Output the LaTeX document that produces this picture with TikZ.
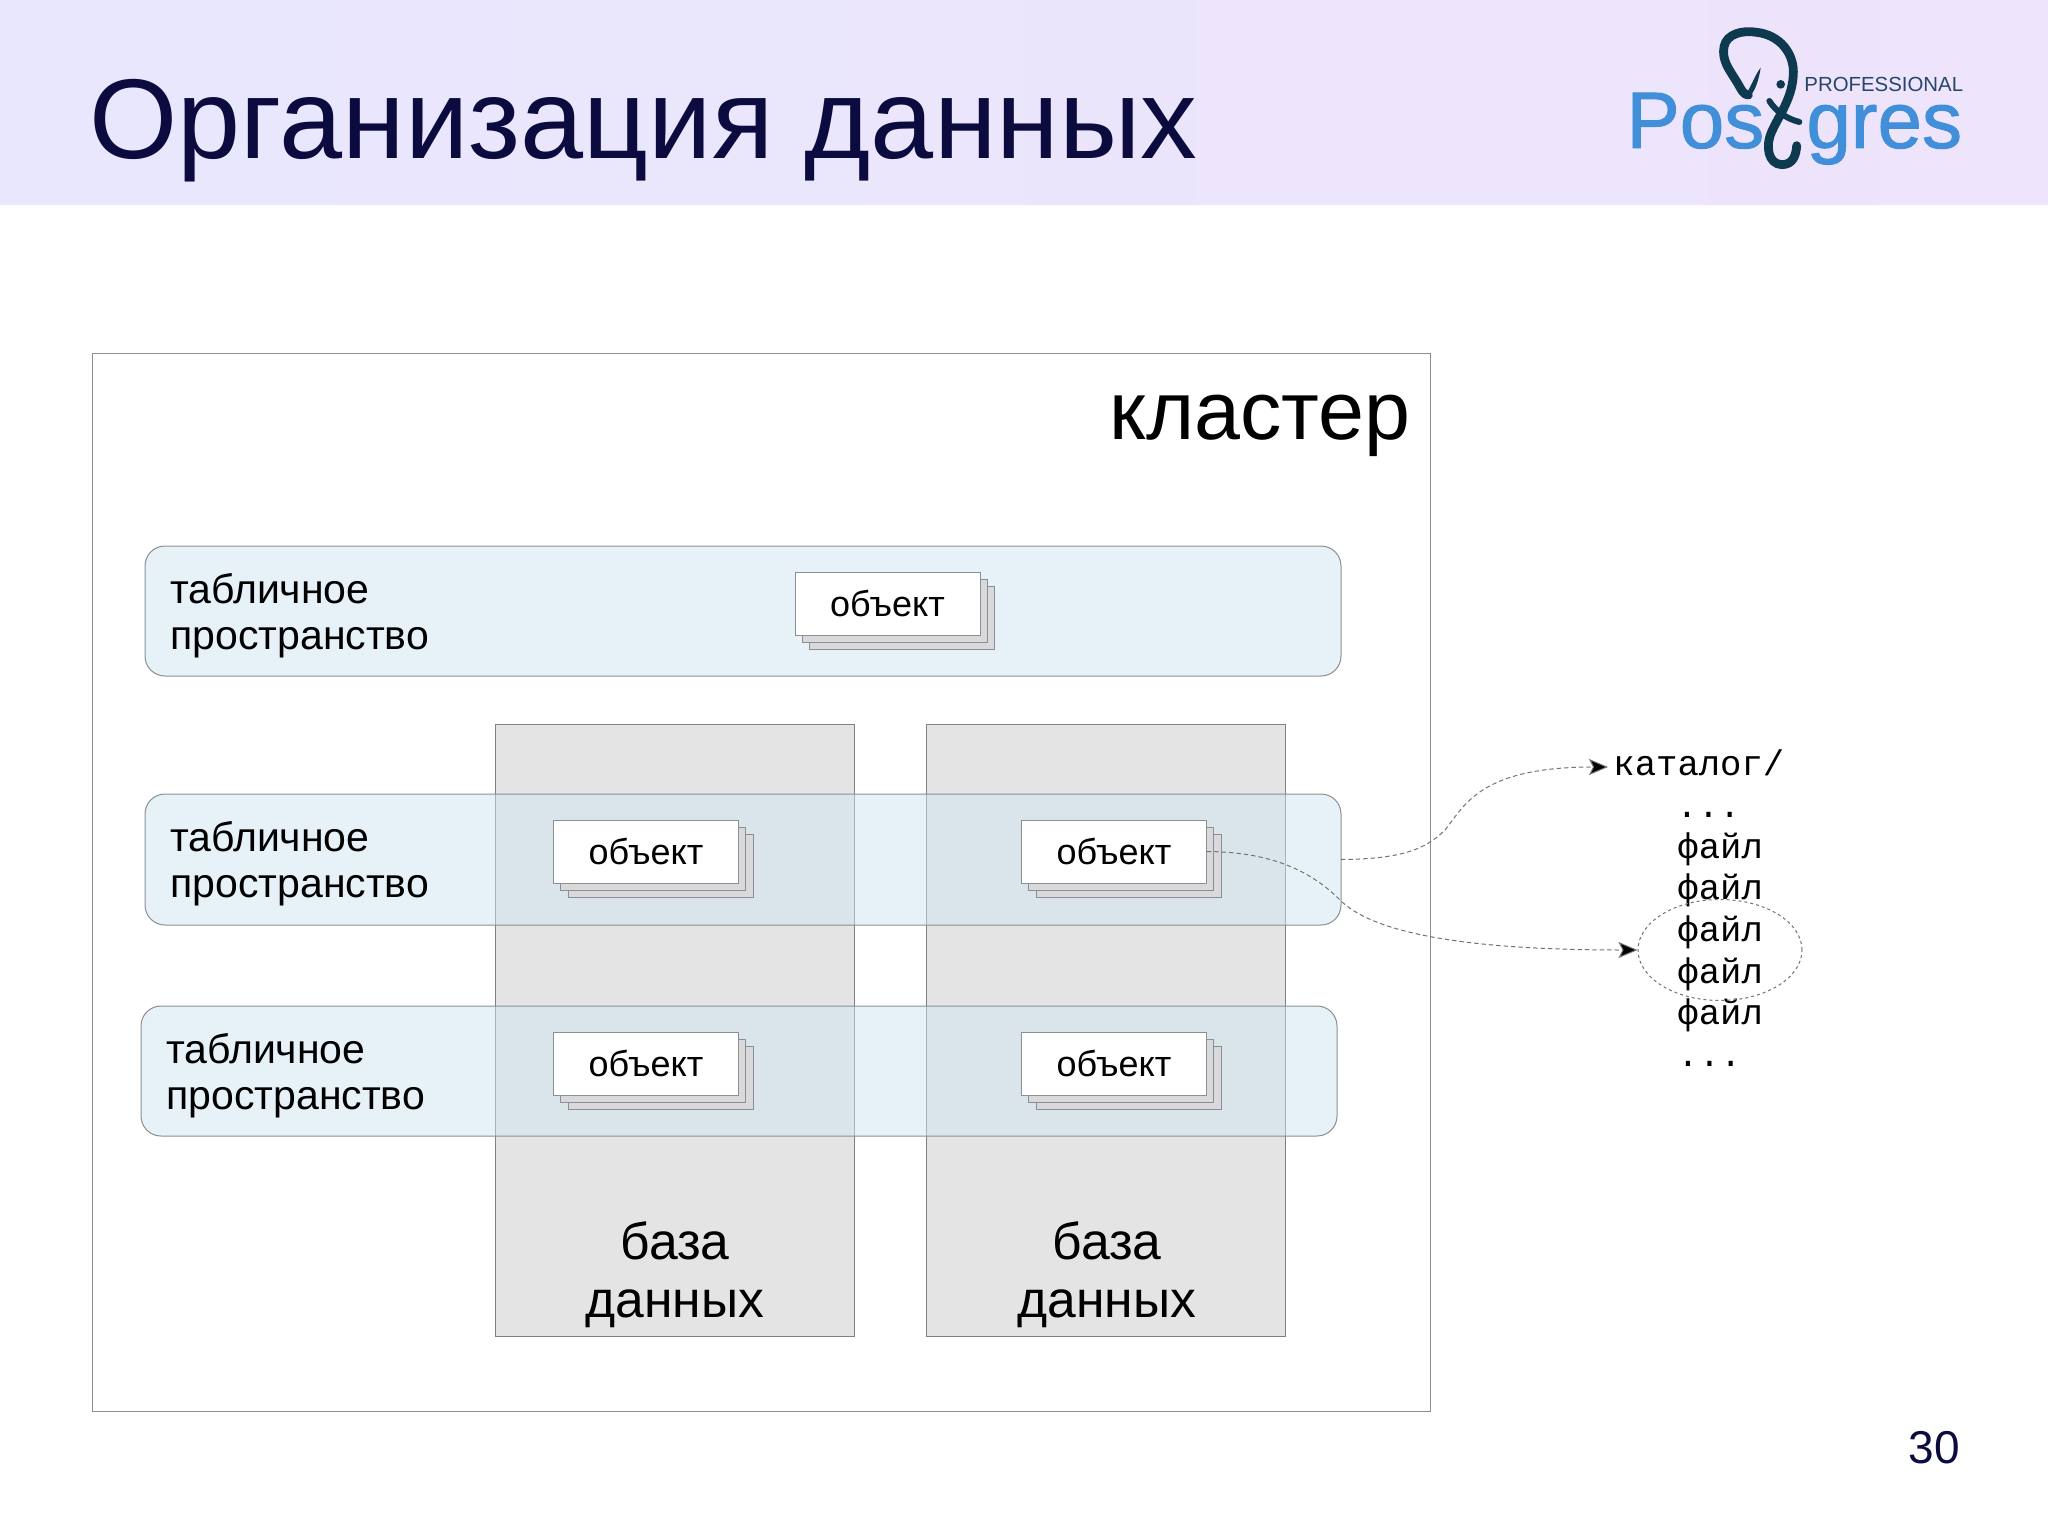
\documentclass[tikz,border=0pt]{standalone}
\usepackage{fontspec}
\setmainfont{Liberation Sans}
\setmonofont{Liberation Mono}
\newfontfamily\logofont[FakeBold=1.2]{Liberation Sans}
\usetikzlibrary{shapes.geometric,arrows.meta}
\definecolor{navy}{HTML}{0B0B3F}
\definecolor{hdrL}{HTML}{E8E7FD}
\definecolor{hdrR}{HTML}{EEE4FB}
\definecolor{tsfill}{HTML}{D0E6F3}
\definecolor{dbfill}{HTML}{E4E4E4}
\definecolor{edge}{HTML}{8A8F94}
\definecolor{stackfill}{HTML}{D9D9DC}
\definecolor{logoblue}{HTML}{408FD8}
\definecolor{logodark}{HTML}{0E3A50}
\definecolor{logotext}{HTML}{27466A}
\tikzset{
  framebox/.style={draw=edge,line width=0.6pt,fill=white},
  dbbox/.style={draw=edge!90!black,line width=0.5pt,fill=dbfill},
  tsbox/.style={draw=edge,line width=0.5pt,fill=tsfill,fill opacity=0.5,rounded corners=10pt},
  objfront/.style={draw=edge,line width=0.45pt,fill=white,minimum width=92.5pt,minimum height=31.5pt,inner sep=0pt,font=\fontsize{18}{20}\selectfont},
  objback/.style={draw=edge,line width=0.45pt,fill=stackfill,minimum width=92.5pt,minimum height=31.5pt,inner sep=0pt},
  tslabel/.style={anchor=west,align=left,inner sep=0pt,font=\fontsize{20.5}{23.1}\selectfont},
  dblabel/.style={anchor=center,align=center,inner sep=0pt,font=\fontsize{25.8}{29}\selectfont},
  monotext/.style={anchor=base west,inner sep=0pt,font=\ttfamily\fontsize{17.8}{20}\selectfont},
  link/.style={draw=black!55,line width=0.5pt,dash pattern=on 2.2pt off 1.5pt,-{Stealth[length=9.5pt,width=8pt,inset=2pt,fill=black]}}
}
\newcommand{\objstack}[3]{%
  \node[objback] (#1c) at (#2+14.5,#3+14.5) {};
  \node[objback] (#1b) at (#2+7,#3+7) {};
  \node[objfront] (#1) at (#2,#3) {объект};
}
\begin{document}
\begin{tikzpicture}[x=0.5pt,y=-0.5pt]
\useasboundingbox (0,0) rectangle (2048,1535);
\fill[white] (0,0) rectangle (2048,1535);
\shade[left color=hdrL,right color=hdrR] (0,0) rectangle (2048,205);
\node[anchor=base west,inner sep=0pt,text=navy,font=\fontsize{56.7}{62}\selectfont] (title) at (89,159) {Организация данных};

% logo
\node[anchor=base west,inner sep=0pt,text=logoblue,font=\fontsize{40}{44}\selectfont\logofont] (logoa) at (1626,148) {Pos};
\node[anchor=base west,inner sep=0pt,text=logoblue,font=\fontsize{40}{44}\selectfont\logofont] (logob) at (1806,148) {gres};
\node[anchor=base west,inner sep=0pt,text=logotext,font=\fontsize{10.2}{12}\selectfont] (logoc) at (1804,92) {PROFESSIONAL};
\begin{scope}[shift={(1580,0)},x=0.16667pt,y=-0.16667pt]
\draw[logodark,line width=4.4pt,line cap=round,line join=round]
  (505,285) .. controls (490,285) and (485,270) .. (470,245)
  .. controls (445,205) and (425,180) .. (432,140)
  .. controls (440,100) and (490,90) .. (530,97)
  .. controls (600,105) and (640,160) .. (640,215)
  .. controls (640,290) and (600,340) .. (575,395)
  .. controls (555,440) and (565,492) .. (605,494)
  .. controls (640,494) and (648,465) .. (650,437);
\fill[logodark] (500,296) .. controls (520,285) and (535,250) .. (542,203)
  .. controls (525,225) and (515,255) .. (505,270) -- cycle;
\fill[logodark] (602,253) circle[radius=13];
\draw[logodark,line width=3pt,line cap=round] (568,303) .. controls (585,330) and (615,355) .. (658,366);
\end{scope}

% cluster
\node[framebox,minimum width=669pt,minimum height=529pt,inner sep=0pt,anchor=north west] (cluster) at (92,353) {};
\node[anchor=base east,inner sep=0pt,font=\fontsize{41.3}{46}\selectfont] (clusterlabel) at (1411,439) {кластер};

% databases
\node[dbbox,minimum width=179.5pt,minimum height=306pt,inner sep=0pt,anchor=north west] (dba) at (495,724) {};
\node[dbbox,minimum width=179.5pt,minimum height=306pt,inner sep=0pt,anchor=north west] (dbb) at (926,724) {};
\node[dblabel] (dbalabel) at (675,1275) {база\\данных};
\node[dblabel] (dbblabel) at (1107,1275) {база\\данных};

% tablespaces
\draw[tsbox] (145,546) rectangle (1341,676);
\draw[tsbox] (145,794) rectangle (1341,925);
\draw[tsbox] (141,1006) rectangle (1337,1136);
\coordinate (tstwoeast) at (1341,859.5);
\node[tslabel] (tsa) at (170,616) {табличное\\пространство};
\node[tslabel] (tsb) at (170,864) {табличное\\пространство};
\node[tslabel] (tsc) at (166,1076) {табличное\\пространство};

% objects
\objstack{oa}{887.5}{603.5}
\objstack{ob}{646}{851.5}
\objstack{oc}{1114}{851.5}
\objstack{od}{646}{1063.5}
\objstack{oe}{1114}{1063.5}

% listing
\node[monotext] (cat) at (1613,775) {каталог/};
\node[monotext] (da) at (1676,817) {...};
\node[monotext] (fa) at (1677,858) {файл};
\node[monotext] (fb) at (1677,899) {файл};
\node[monotext] (fc) at (1677,941) {файл};
\node[monotext] (fd) at (1677,983) {файл};
\node[monotext] (fe) at (1677,1024) {файл};
\node[monotext] (db) at (1677,1066) {...};
\node[ellipse,draw=black!55,line width=0.5pt,dash pattern=on 1.5pt off 1.5pt,minimum width=82pt,minimum height=50.5pt,inner sep=0pt] (sel) at (1720,950) {};
\coordinate (catin) at (1608,767);

% links
\draw[link] (tstwoeast) .. controls (1400,859) and (1425,850) .. (1445,830)
  .. controls (1465,805) and (1480,767) .. (catin);
\draw[link] (oc.east) .. controls (1270,852) and (1310,870) .. (1340,900)
  .. controls (1380,940) and (1500,950) .. (sel.west);

% page number
\node[anchor=base east,inner sep=0pt,text=navy,font=\fontsize{23}{26}\selectfont] (page) at (1960,1463) {30};
\end{tikzpicture}
\end{document}
